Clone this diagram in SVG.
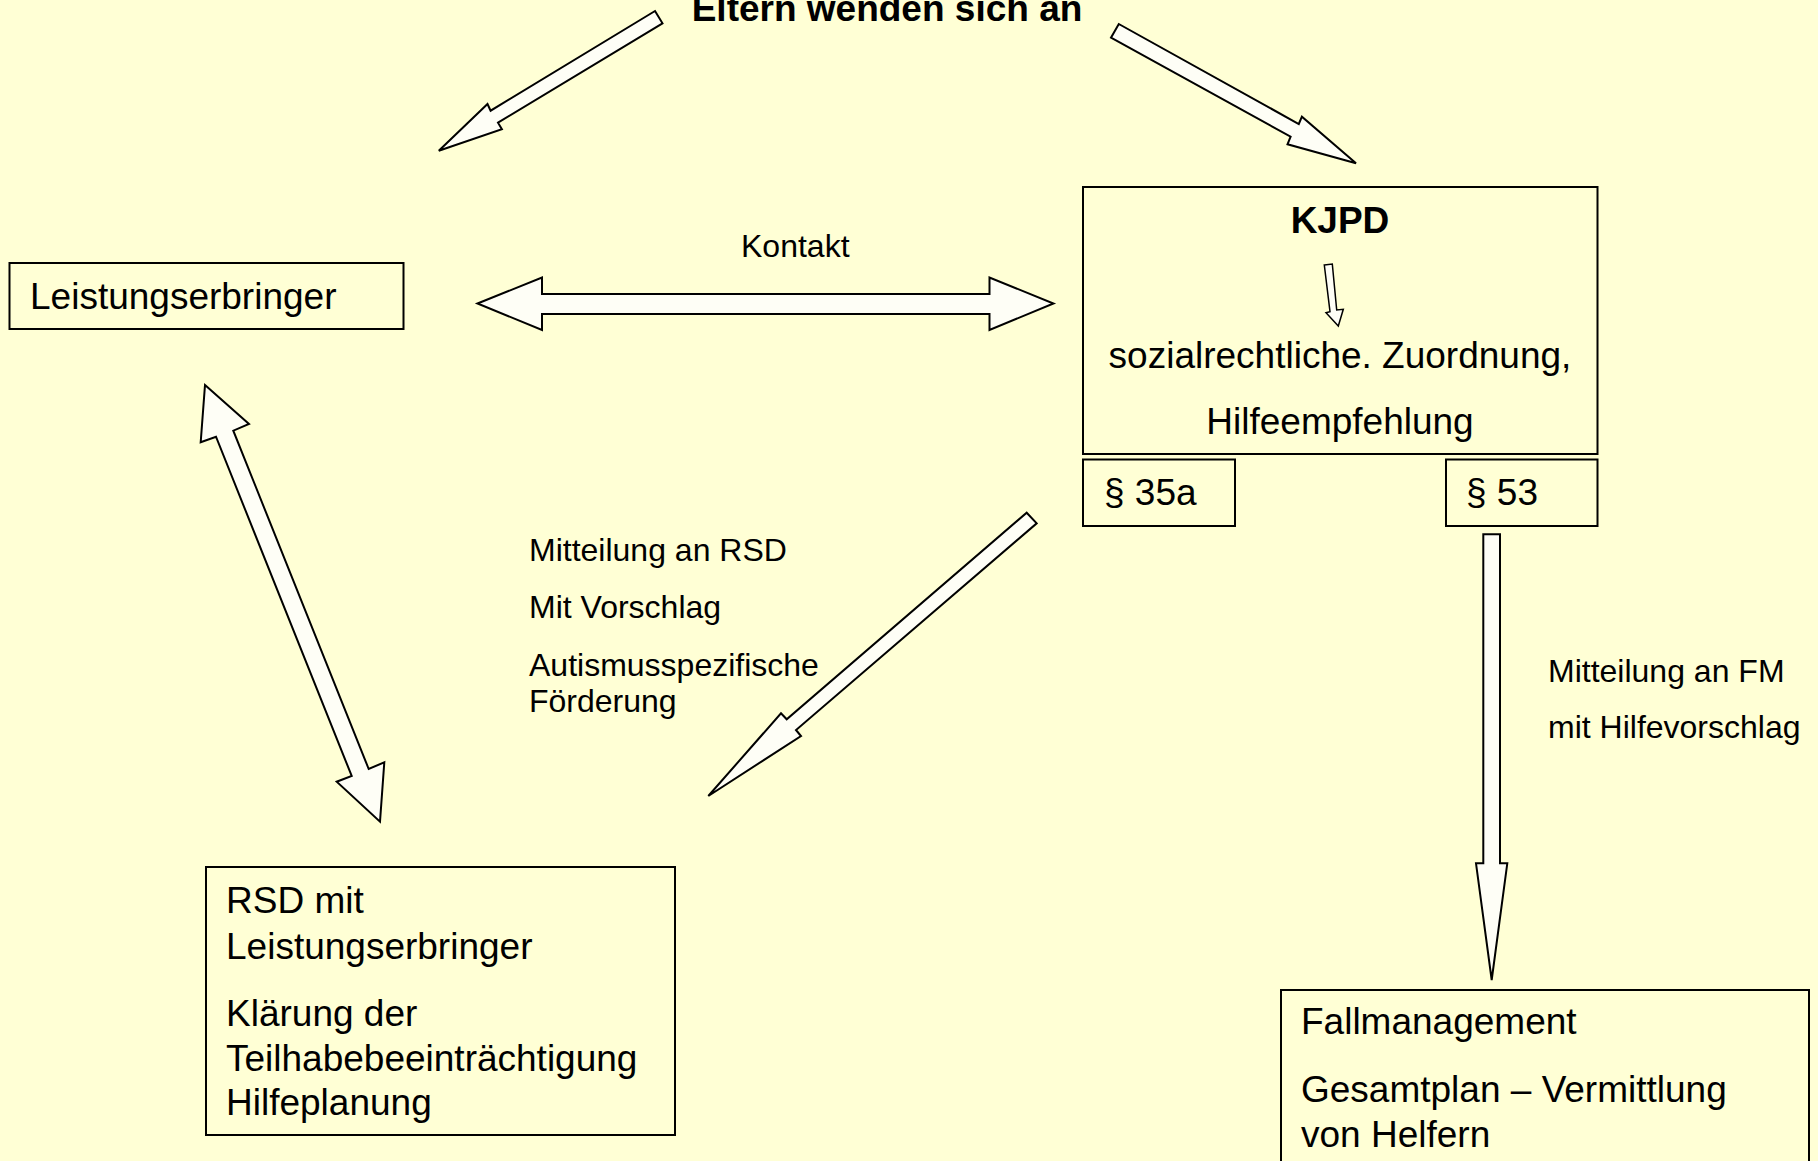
<svg xmlns="http://www.w3.org/2000/svg" width="1818" height="1161" viewBox="0 0 1818 1161">
<style>
.bg{fill:#FFFFD5}
.box{fill:none;stroke:#000;stroke-width:2}
.arr{fill:#FEFEF6;stroke:#000;stroke-width:2;stroke-linejoin:miter}
.t{font-family:"Liberation Sans",Arial,sans-serif;fill:#000}
.big{font-size:37px}
.sm{font-size:32px}
.b{font-weight:bold}
</style>
<rect class="bg" x="0" y="0" width="1818" height="1161"/>
<g id="title"><text class="t big b" x="887" y="21" text-anchor="middle">Eltern wenden sich an</text></g>
<g id="connectors">
<polygon class="arr" points="655,11 662.5,23.3 498,122.7 501.9,129.3 438.8,150.7 487.5,104 490.6,110.7"/>
<polygon class="arr" points="1118.8,24 1298.8,124 1301.9,116.7 1356,163.3 1287.5,144.3 1290.6,136.7 1111,37.7"/>
<polygon class="arr" points="477.5,303.5 542,277.5 542,294 989.5,294 989.5,277.5 1053.5,303.5 989.5,330 989.5,314 542,314 542,330"/>
<polygon class="arr" points="205,385 249,424 233.3,430.7 368.7,769 384.3,762.3 380,821.7 336.7,781.7 351.7,776 216,436.7 200.7,442.3"/>
<polygon class="arr" points="1026.7,512.7 1036.7,523.3 796,730 801,736 708.3,796 781,713.3 786.7,719.3"/>
<polygon class="arr" points="1483.3,534.3 1500,534.3 1500,863.3 1507.3,863.3 1491.7,980 1476,863.3 1483.3,863.3"/>
<polygon class="arr" points="1324.3,265 1332.3,264 1336.7,310 1343.3,309.3 1338.3,326 1326,312.7 1330,311.7" style="stroke-width:1.5"/>
</g>
<g id="kontakt-label"><text class="t sm" x="741" y="257">Kontakt</text></g>
<g id="rsd-label">
<text class="t sm" x="529" y="561">Mitteilung an RSD</text>
<text class="t sm" x="529" y="618">Mit Vorschlag</text>
<text class="t sm" x="529" y="676">Autismusspezifische</text>
<text class="t sm" x="529" y="712">Förderung</text>
</g>
<g id="fm-label">
<text class="t sm" x="1548" y="682">Mitteilung an FM</text>
<text class="t sm" x="1548" y="738">mit Hilfevorschlag</text>
</g>
<g id="leistungserbringer">
<rect class="box" x="9.5" y="263" width="394" height="66"/>
<text class="t big" x="30" y="309">Leistungserbringer</text>
</g>
<g id="kjpd">
<rect class="box" x="1083" y="187" width="514.5" height="267"/>
<text class="t big b" x="1340" y="233" text-anchor="middle">KJPD</text>
<text class="t big" x="1340" y="368" text-anchor="middle">sozialrechtliche. Zuordnung,</text>
<text class="t big" x="1340" y="434" text-anchor="middle">Hilfeempfehlung</text>
</g>
<g id="p35a">
<rect class="box" x="1083" y="459.5" width="152" height="66.5"/>
<text class="t big" x="1104" y="505">§ 35a</text>
</g>
<g id="p53">
<rect class="box" x="1446" y="459.5" width="151.5" height="66.5"/>
<text class="t big" x="1466" y="505">§ 53</text>
</g>
<g id="rsd">
<rect class="box" x="206" y="867" width="469" height="268"/>
<text class="t big" x="226" y="913">RSD mit</text>
<text class="t big" x="226" y="959">Leistungserbringer</text>
<text class="t big" x="226" y="1026">Klärung der</text>
<text class="t big" x="226" y="1071">Teilhabebeeinträchtigung</text>
<text class="t big" x="226" y="1115">Hilfeplanung</text>
</g>
<g id="fallmanagement">
<rect class="box" x="1281" y="990" width="528" height="185"/>
<text class="t big" x="1301" y="1034">Fallmanagement</text>
<text class="t big" x="1301" y="1102">Gesamtplan – Vermittlung</text>
<text class="t big" x="1301" y="1147">von Helfern</text>
</g>
</svg>
